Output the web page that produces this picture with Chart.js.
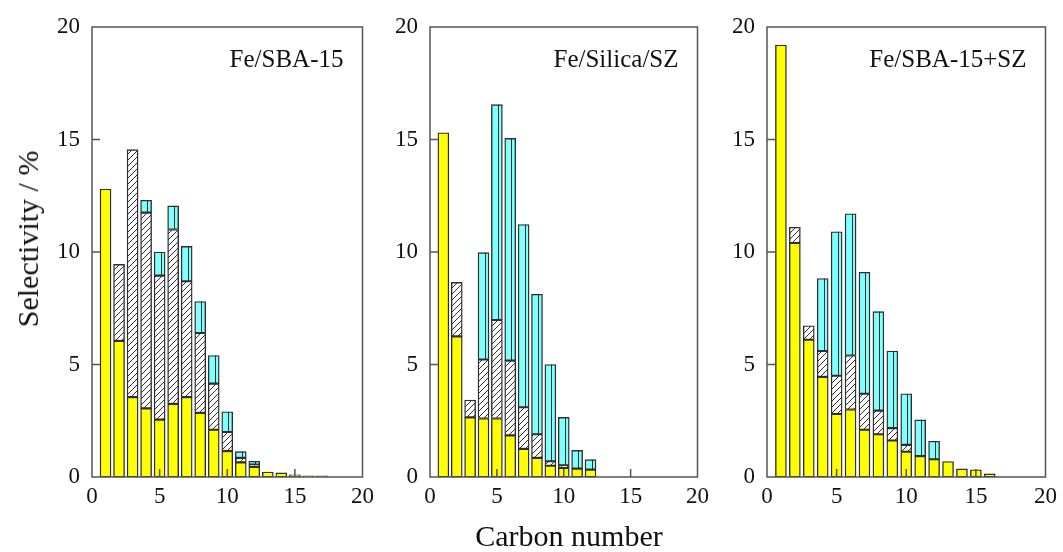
<!DOCTYPE html>
<html>
<head>
<meta charset="utf-8">
<script src="https://cdn.jsdelivr.net/npm/chart.js@4/dist/chart.umd.min.js"></script>
<style>
  body { margin: 0; background: #fff; }
  #wrap { position: relative; width: 1063px; height: 552px; overflow: hidden; font-family: "Liberation Serif", "DejaVu Serif", serif; color: #111; }
  canvas { position: absolute; top: 0; }
  .ytitle { position: absolute; left: 28px; top: 239px; font-size: 30px; white-space: nowrap;
            transform: translate(-50%, -50%) rotate(-90deg); }
  .xtitle { position: absolute; left: 569px; top: 536px; font-size: 30px; white-space: nowrap;
            transform: translate(-50%, -50%); }
</style>
</head>
<body>
<div id="wrap">
  <canvas id="c1" width="338" height="520" style="left:42px"></canvas>
  <canvas id="c2" width="335" height="520" style="left:380px"></canvas>
  <canvas id="c3" width="346" height="520" style="left:717px"></canvas>
  <div class="ytitle">Selectivity / %</div>
  <div class="xtitle">Carbon number</div>
</div>
<script>
// carbon numbers on the x axis
let carbon = [1, 2, 3, 4, 5, 6, 7, 8, 9, 10, 11, 12, 13, 14, 15, 16, 17];
let axisTicks = [0, 5, 10, 15, 20];

// Fe/SBA-15
let sbaNParaffin = [12.8, 6.05, 3.55, 3.05, 2.55, 3.25, 3.55, 2.85, 2.1, 1.15, 0.65, 0.45, 0.22, 0.18, 0.1, 0.05, 0.05];
let sbaOlefin = [null, 3.4, 11.0, 8.7, 6.4, 7.75, 5.15, 3.55, 2.05, 0.85, 0.2, 0.1];
let sbaIso = [null, null, null, 0.55, 1.05, 1.05, 1.55, 1.4, 1.25, 0.9, 0.28, 0.15];

// Fe/Silica/SZ
let silicaNParaffin = [15.3, 6.25, 2.65, 2.6, 2.6, 1.85, 1.25, 0.85, 0.5, 0.4, 0.37, 0.33];
let silicaOlefin = [null, 2.4, 0.77, 2.62, 4.38, 3.32, 1.85, 1.05, 0.2, 0.12];
let silicaIso = [null, null, null, 4.75, 9.57, 9.88, 8.12, 6.22, 4.3, 2.13, 0.81, 0.44];

// Fe/SBA-15+SZ
let mixNParaffin = [19.2, 10.4, 6.1, 4.45, 2.8, 3.0, 2.1, 1.9, 1.62, 1.12, 0.93, 0.79, 0.69, 0.36, 0.32, 0.14];
let mixOlefin = [null, 0.7, 0.62, 1.15, 1.7, 2.4, 1.6, 1.05, 0.55, 0.31];
let mixIso = [null, null, null, 3.22, 6.4, 6.3, 5.4, 4.4, 3.43, 2.27, 1.61, 0.8];

const FONT = '"Liberation Serif", "DejaVu Serif", serif';
const EDGE = '#2e2e2e';

function hatchFill(ctx) {
    let c = document.createElement('canvas');
    c.width = 6; c.height = 6;
    let g = c.getContext('2d');
    g.fillStyle = '#fff';
    g.fillRect(0, 0, 6, 6);
    g.strokeStyle = '#2e2e2e';
    g.lineWidth = 1;
    g.beginPath();
    g.moveTo(0, 6); g.lineTo(6, 0);
    g.moveTo(-1, 1); g.lineTo(1, -1);
    g.moveTo(5, 7); g.lineTo(7, 5);
    g.stroke();
    return ctx.createPattern(c, 'repeat');
}

function points(values) {
    return values.map((v, i) => ({ x: carbon[i], y: v })).filter(p => p.y !== null);
}

// frame, inward tick marks, the stripe down each cyan bar and the panel name
const framePlugin = {
    id: 'frame',
    afterDatasetsDraw(chart, args, opts) {
        let { ctx, chartArea: a, scales } = chart;
        ctx.save();

        ctx.strokeStyle = EDGE;
        ctx.lineWidth = 1;
        ctx.beginPath();
        chart.getDatasetMeta(2).data.forEach(el => {
            let x = Math.round(el.x) + 1.5;
            ctx.moveTo(x, el.y); ctx.lineTo(x, el.base);
        });
        ctx.stroke();

        ctx.strokeStyle = '#555';
        ctx.lineWidth = 1.5;
        ctx.beginPath();
        axisTicks.slice(1, -1).forEach(t => {
            let y = scales.y.getPixelForValue(t);
            ctx.moveTo(a.left, y); ctx.lineTo(a.left + 8, y);
            let x = scales.x.getPixelForValue(t);
            ctx.moveTo(x, a.bottom); ctx.lineTo(x, a.bottom - 8);
        });
        ctx.stroke();
        ctx.strokeRect(a.left, a.top, a.right - a.left, a.bottom - a.top);

        ctx.fillStyle = '#111';
        ctx.font = '25px ' + FONT;
        ctx.textAlign = 'right';
        ctx.textBaseline = 'middle';
        ctx.fillText(opts.name, a.right - 19, a.top + 33);
        ctx.restore();
    }
};

function makePanel(id, name, nPar, olefin, iso, axisWidth, rightPad) {
    let canvas = document.getElementById(id);
    let ctx = canvas.getContext('2d');
    let bar = { borderColor: EDGE, borderWidth: 1.4, borderSkipped: false, barThickness: 11 };
    return new Chart(ctx, {
        type: 'bar',
        data: {
            datasets: [
                Object.assign({ data: points(nPar), backgroundColor: '#ffff00' }, bar),
                Object.assign({ data: points(olefin), backgroundColor: hatchFill(ctx) }, bar),
                Object.assign({ data: points(iso), backgroundColor: '#80ffff' }, bar)
            ]
        },
        options: {
            responsive: false,
            animation: false,
            devicePixelRatio: 1,
            layout: { padding: { top: 27, right: rightPad, left: 0, bottom: 0 } },
            plugins: { legend: { display: false }, tooltip: { enabled: false }, frame: { name: name } },
            scales: {
                x: {
                    type: 'linear', min: 0, max: 20, stacked: true, offset: false,
                    grid: { display: false, drawTicks: false }, border: { display: false },
                    ticks: { stepSize: 5, padding: 6, color: '#111', font: { family: FONT, size: 23 } },
                    afterFit: s => { s.height = 43; }
                },
                y: {
                    min: 0, max: 20, stacked: true,
                    grid: { display: false, drawTicks: false }, border: { display: false },
                    ticks: { stepSize: 5, padding: 12, color: '#111', font: { family: FONT, size: 23 } },
                    afterFit: s => { s.width = axisWidth; }
                }
            }
        },
        plugins: [framePlugin]
    });
}

makePanel('c1', 'Fe/SBA-15', sbaNParaffin, sbaOlefin, sbaIso, 50, 9);
makePanel('c2', 'Fe/Silica/SZ', silicaNParaffin, silicaOlefin, silicaIso, 50, 9);
makePanel('c3', 'Fe/SBA-15+SZ', mixNParaffin, mixOlefin, mixIso, 50, 17);
</script>
</body>
</html>
